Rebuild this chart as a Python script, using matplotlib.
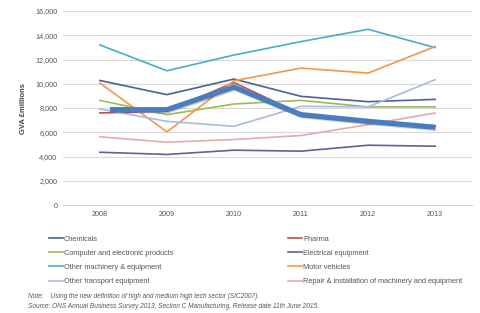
import matplotlib.pyplot as plt
import matplotlib.patheffects as pe

plt.rcParams['font.family'] = ['Liberation Sans', 'DejaVu Sans']

years = ["2008", "2009", "2010", "2011", "2012", "2013"]

chemicals = [10270, 9100, 10390, 8960, 8520, 8710]
pharma = [7590, 7750, 10100, 7500, 6900, 6500]
computer = [8630, 7450, 8330, 8630, 8090, 8090]
electrical = [4350, 4170, 4520, 4440, 4930, 4850]
other_machinery = [13200, 11070, 12370, 13480, 14490, 12980]
motor_vehicles = [10060, 6030, 10250, 11290, 10880, 13070]
other_transport = [7920, 6900, 6490, 8140, 8090, 10330]
repair = [5620, 5180, 5400, 5730, 6630, 7590]
# thick highlight line drawn over the chart
highlight = [7860, 7860, 9730, 7450, 6900, 6410]

series = [
    ("Chemicals", chemicals, "#4a6291"),
    ("Pharma", pharma, "#c0504d"),
    ("Computer and electronic products", computer, "#9bbb59"),
    ("Electrical equipment", electrical, "#6e5a94"),
    ("Other machinery & equipment", other_machinery, "#4bacc6"),
    ("Motor vehicles", motor_vehicles, "#f79646"),
    ("Other transport equipment", other_transport, "#a9bcde"),
    ("Repair & installation of machinery and equipment", repair, "#e6a9a7"),
]

fig = plt.figure(figsize=(4.81, 3.13), dpi=100)
ax = fig.add_axes([63 / 481, 1 - 205 / 313, 409 / 481, 194 / 313])

x = list(range(len(years)))
lines = []
for name, vals, col in series:
    ln, = ax.plot(x, vals, color=col, linewidth=1.2, label=name)
    lines.append(ln)

ax.plot([0.15] + x[1:], highlight, color="#4a7cc0", linewidth=3.8,
        solid_capstyle="butt", solid_joinstyle="miter",
        path_effects=[pe.SimpleLineShadow(offset=(0.8, -0.8), alpha=0.2),
                      pe.Normal()])

ax.set_xlim(-0.55, 5.55)
ax.set_ylim(0, 16000)
ax.set_yticks(range(0, 16001, 2000))
ax.set_yticklabels([f"{v:,}" for v in range(0, 16001, 2000)])
ax.set_xticks(x)
ax.set_xticklabels(years)
ax.grid(axis="y", color="#d9d9d9", linewidth=0.8)
ax.set_axisbelow(True)
for s in ["top", "right", "left"]:
    ax.spines[s].set_visible(False)
ax.spines["bottom"].set_color("#d0d0d0")
ax.tick_params(length=0, labelsize=5.2, colors="#555555", pad=4)
ax.set_ylabel("GVA £millions", fontsize=5.5, fontweight="bold", color="#444444", labelpad=6)

# row-major order like the reference: left column odd, right column even
order = [0, 2, 4, 6, 1, 3, 5, 7]
fig.legend(handles=[lines[i] for i in order], loc="upper left",
           bbox_to_anchor=(42 / 481, 1 - 229 / 313),
           ncol=2, frameon=False, fontsize=5.3, handlelength=2.0, handletextpad=0.1,
           columnspacing=15.5, labelspacing=0.95, labelcolor="#555555")

fig.text(28 / 481, 1 - 297 / 313, "Note:    Using the new definition of high and medium high tech sector (SIC2007).",
         fontsize=4.7, color="#555555", style="italic", va="center")
fig.text(28 / 481, 1 - 307 / 313, "Source: ONS Annual Business Survey 2013, Section C Manufacturing. Release date 11th June 2015.",
         fontsize=4.7, color="#555555", style="italic", va="center")

fig.savefig("out.png", dpi=100)
